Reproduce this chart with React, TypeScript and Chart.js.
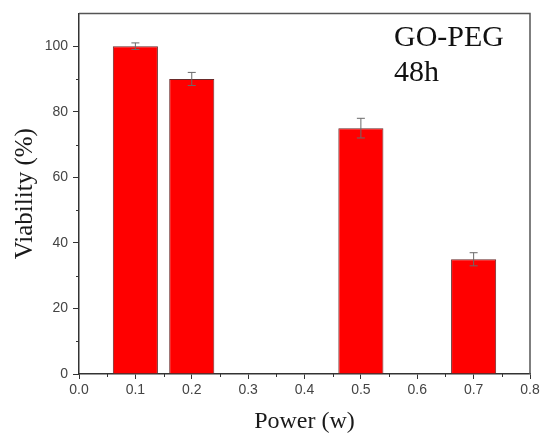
import { useEffect, useRef } from "react";
import { Chart, registerables } from "chart.js";

Chart.register(...registerables);

// ---- data ----
const powers = [0.1, 0.2, 0.5, 0.7];
const viability = [100, 90, 75, 35];
const errors = [1, 2, 3, 2];
const xTicks = [0, 0.1, 0.2, 0.3, 0.4, 0.5, 0.6, 0.7, 0.8];
const xMinorTicks = [0.05, 0.15, 0.25, 0.35, 0.45, 0.55, 0.65, 0.75];
const yTicks = [0, 20, 40, 60, 80, 100];
const yMinorTicks = [10, 30, 50, 70, 90];
const annotationLines = ["GO-PEG", "48h"];
const xTitle = "Power (w)";
const yTitle = "Viability (%)";

const AXIS = "#333333";

const decorPlugin = {
  id: "decor",
  afterDatasetsDraw(chart: any) {
    const { ctx, chartArea, scales } = chart;
    const xs = scales.x;
    const ys = scales.y;
    ctx.save();
    // error bars
    ctx.strokeStyle = "#6a6a6a";
    ctx.lineWidth = 1;
    powers.forEach((p, i) => {
      const x = xs.getPixelForValue(p);
      const yTop = ys.getPixelForValue(viability[i] + errors[i]);
      const yBot = ys.getPixelForValue(viability[i] - errors[i]);
      ctx.beginPath();
      ctx.moveTo(x, yTop);
      ctx.lineTo(x, yBot);
      ctx.moveTo(x - 4, yTop);
      ctx.lineTo(x + 4, yTop);
      ctx.moveTo(x - 4, yBot);
      ctx.lineTo(x + 4, yBot);
      ctx.stroke();
    });
    // frame (top and right)
    ctx.strokeStyle = "#555555";
    ctx.lineWidth = 1.5;
    ctx.beginPath();
    ctx.moveTo(chartArea.left, chartArea.top);
    ctx.lineTo(chartArea.right, chartArea.top);
    ctx.lineTo(chartArea.right, chartArea.bottom);
    ctx.stroke();
    // minor ticks
    ctx.strokeStyle = AXIS;
    ctx.lineWidth = 1;
    ctx.beginPath();
    xMinorTicks.forEach((v) => {
      const x = Math.round(xs.getPixelForValue(v)) + 0.5;
      ctx.moveTo(x, chartArea.bottom);
      ctx.lineTo(x, chartArea.bottom + 3);
    });
    yMinorTicks.forEach((v) => {
      const y = Math.round(ys.getPixelForValue(v)) + 0.5;
      ctx.moveTo(chartArea.left, y);
      ctx.lineTo(chartArea.left - 3, y);
    });
    ctx.stroke();
    // annotation
    ctx.fillStyle = "#111111";
    ctx.font = '30px "Liberation Serif", "Times New Roman", serif';
    ctx.textAlign = "left";
    ctx.textBaseline = "alphabetic";
    annotationLines.forEach((t, i) => {
      ctx.fillText(t, chartArea.right - 136, chartArea.top + 33 + i * 35);
    });
    ctx.restore();
  },
};

export default function App() {
  const ref = useRef<HTMLCanvasElement | null>(null);

  useEffect(() => {
    if (!ref.current) return;
    const chart = new Chart(ref.current, {
      type: "bar",
      data: {
        datasets: [
          {
            data: powers.map((x, i) => ({ x, y: viability[i] })),
            backgroundColor: "#ff0000",
            borderColor: "#6a2a2a",
            borderWidth: 1,
            barPercentage: 0.8,
            categoryPercentage: 1,
          },
        ],
      },
      options: {
        animation: false,
        responsive: false,
        devicePixelRatio: 1,
        layout: { padding: { top: 10, right: 15, left: 0, bottom: 0 } },
        plugins: {
          legend: { display: false },
          tooltip: { enabled: false },
        },
        scales: {
          x: {
            type: "linear",
            min: 0,
            max: 0.8,
            offset: false,
            afterBuildTicks: (s: any) => {
              s.ticks = xTicks.map((v) => ({ value: v }));
            },
            afterFit: (s: any) => {
              s.height = 64;
            },
            ticks: {
              autoSkip: false,
              maxRotation: 0,
              padding: 3,
              color: "#444444",
              font: { family: '"Liberation Sans", Arial, sans-serif', size: 14 },
              callback: (v: any) => Number(v).toFixed(1),
            },
            grid: {
              offset: false,
              drawOnChartArea: false,
              drawTicks: true,
              tickLength: 5,
              tickColor: AXIS,
              color: AXIS,
            },
            border: { color: AXIS, width: 1.5 },
            title: {
              display: true,
              text: xTitle,
              color: "#1a1a1a",
              font: { family: '"Liberation Serif", "Times New Roman", serif', size: 24 },
              padding: { top: 0, bottom: 2 },
            },
          },
          y: {
            type: "linear",
            min: 0,
            max: 110,
            afterBuildTicks: (s: any) => {
              s.ticks = yTicks.map((v) => ({ value: v }));
            },
            afterFit: (s: any) => {
              s.width = 79;
            },
            ticks: {
              padding: 5,
              color: "#444444",
              font: { family: '"Liberation Sans", Arial, sans-serif', size: 14 },
            },
            grid: {
              drawOnChartArea: false,
              drawTicks: true,
              tickLength: 6,
              tickColor: AXIS,
              color: AXIS,
            },
            border: { color: AXIS, width: 1.5 },
            title: {
              display: true,
              text: yTitle,
              color: "#1a1a1a",
              font: { family: '"Liberation Serif", "Times New Roman", serif', size: 25 },
              padding: { top: 10, bottom: 0 },
            },
          },
        },
      },
      plugins: [decorPlugin],
    });
    return () => chart.destroy();
  }, []);

  return (
    <div style={{ position: "fixed", left: 0, top: 0, width: 545, height: 438, background: "#ffffff" }}>
      <canvas ref={ref} width={545} height={438} style={{ width: 545, height: 438, display: "block" }} />
    </div>
  );
}
